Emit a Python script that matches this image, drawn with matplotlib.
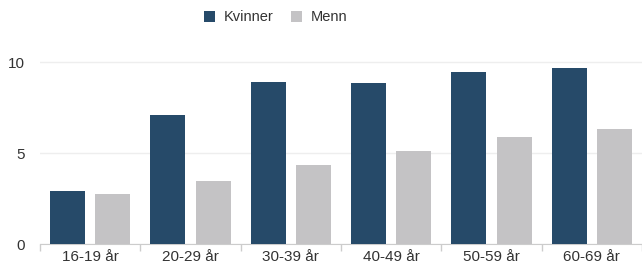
import numpy as np
import matplotlib
matplotlib.use("Agg")
import matplotlib.pyplot as plt

plt.rcParams['font.family'] = ['Liberation Sans', 'DejaVu Sans']

# data
categories = ['16-19 år', '20-29 år', '30-39 år', '40-49 år', '50-59 år', '60-69 år']
kvinner = [2.9, 7.1, 8.9, 8.85, 9.45, 9.7]
menn = [2.75, 3.45, 4.35, 5.1, 5.9, 6.35]

fig = plt.figure(figsize=(6.42, 2.72), dpi=100)
ax = fig.add_axes([40/642, 28/272, 602/642, 189/272])

x = np.arange(len(categories))
w = 0.35
ax.bar(x - 0.225, kvinner, w, color='#264a69', label='Kvinner', zorder=3)
ax.bar(x + 0.225, menn, w, color='#c4c3c5', label='Menn', zorder=3)

ax.set_xlim(-0.5, len(categories) - 0.5)
ax.set_ylim(0, 10.4)
ax.set_yticks([0, 5, 10])
ax.yaxis.grid(True, color='#eeeeee', linewidth=1, zorder=0)
ax.set_xticks(x)
ax.set_xticklabels(categories, fontsize=11, color='#333333')
ax.set_xticks(np.arange(len(categories) + 1) - 0.5, minor=True)
ax.tick_params(axis='x', which='major', length=0, pad=4)
ax.tick_params(axis='x', which='minor', length=5, color='#cccccc', width=1)
ax.tick_params(axis='y', length=0, labelsize=11, labelcolor='#333333', pad=11)

for s in ['top', 'right', 'left']:
    ax.spines[s].set_visible(False)
ax.spines['bottom'].set_color('#cccccc')

leg = fig.legend(loc='upper center', bbox_to_anchor=(0.43, 1.01), ncol=2, frameon=False,
                 fontsize=10.5, handlelength=0.75, handleheight=0.75, handletextpad=0.6,
                 columnspacing=1.2)
for t in leg.get_texts():
    t.set_color('#333333')

fig.savefig('out.png', dpi=100)
